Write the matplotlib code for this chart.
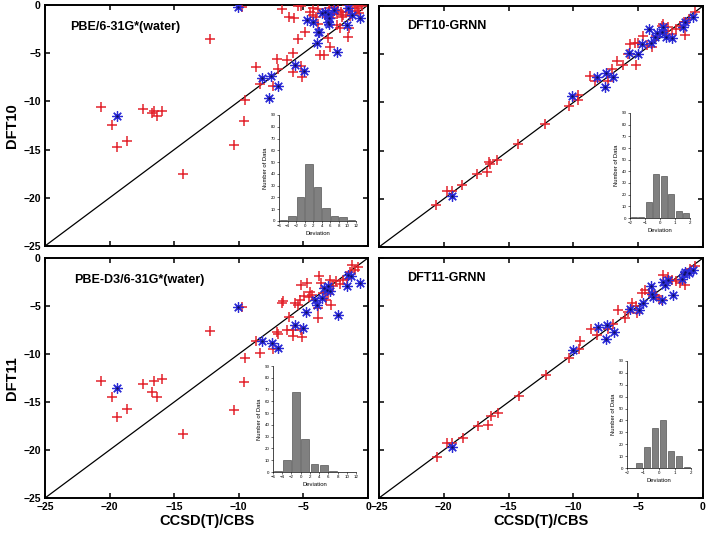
import matplotlib
matplotlib.use("Agg")
import matplotlib.pyplot as plt
import numpy as np

plt.rcParams['font.family'] = ['Liberation Sans', 'DejaVu Sans']

# ---------------- data ----------------
titles = ["PBE/6-31G*(water)", "DFT10-GRNN", "PBE-D3/6-31G*(water)", "DFT11-GRNN"]
ylabels = ["DFT10", "DFT11"]
xlabel = "CCSD(T)/CBS"
main_ticks = [-25, -20, -15, -10, -5, 0]

# Panel 1: PBE/6-31G*(water)
p1_red_x = [-20.67, -19.79, -19.40, -18.63, -17.44, -16.72, -16.54, -16.36, -15.92, -14.32,
            -12.20, -10.40, -9.62, -9.54, -9.75, -8.69, -8.36, -7.38, -7.02, -6.94,
            -6.68, -6.30, -6.09, -5.73, -5.78, -5.83, -5.40, -5.15, -5.07, -4.88,
            -5.40, -5.21, -4.49, -4.28, -4.23, -3.85, -3.07, -2.94, -3.71, -3.38,
            -3.46, -2.69, -2.40, -2.10, -1.90, -1.70, -2.30, -2.42, -2.17, -1.53,
            -1.45, -0.87, -0.49, -1.60, -1.20, -0.80, -3.00, -2.60, -1.40, -1.00,
            -0.70, -2.90, -3.90, -4.00, -3.30, -2.00, -1.20]
p1_red_y = [-10.55, -12.45, -14.77, -14.14, -10.79, -11.17, -11.00, -11.51, -10.96, -17.50,
            -3.49, -14.52, -12.07, -9.85, -0.24, -6.40, -8.20, -8.40, -5.64, -6.67,
            -0.40, -5.71, -1.28, -1.38, -4.95, -6.92, -3.56, -6.33, -7.50, -2.77,
            -0.10, -0.10, -0.69, -0.35, -1.04, -1.97, -3.46, -4.32, -5.19, -5.19,
            -0.86, -0.93, -0.90, -0.75, -1.00, -0.75, -0.55, -2.07, -2.42, -3.29,
            -2.42, -0.35, -0.10, -0.05, -0.05, -0.10, -0.30, -0.20, -1.10, -0.60,
            -0.80, -1.30, -0.40, -1.20, -1.00, -1.20, -0.90]
p1_blue_x = [-19.45, -10.06, -8.18, -7.51, -7.64, -6.99, -5.65, -4.97, -4.75, -4.23,
             -3.77, -3.97, -3.58, -3.30, -3.10, -3.00, -3.10, -3.00, -2.42, -1.65,
             -1.53, -1.27, -0.62, -3.86, -2.60]
p1_blue_y = [-11.51, -0.24, -7.54, -7.36, -9.61, -8.40, -6.26, -6.85, -1.56, -1.73,
             -2.77, -3.97, -0.86, -0.75, -0.90, -1.40, -1.80, -2.00, -4.91, -2.07,
             -0.35, -1.04, -1.38, -2.84, -0.50]

# Panel 2: DFT10-GRNN
p2_red_x = [-20.60, -19.73, -19.39, -18.57, -17.46, -16.69, -16.49, -16.40, -15.92, -14.30,
            -12.17, -10.36, -9.62, -9.62, -8.72, -8.31, -7.05, -7.36, -6.66, -6.15,
            -5.76, -5.63, -5.25, -5.00, -5.17, -4.65, -3.93, -3.07, -3.20, -2.70,
            -2.40, -2.10, -1.39, -1.80, -0.60, -3.60, -4.30, -2.90, -1.50, -1.10]
p2_red_y = [-20.64, -19.22, -19.22, -18.57, -17.43, -17.19, -16.15, -16.40, -15.98, -14.32,
            -12.24, -10.37, -9.23, -9.80, -7.23, -7.75, -6.53, -7.75, -5.67, -6.10,
            -4.98, -3.98, -3.87, -3.80, -6.15, -3.11, -4.25, -1.87, -2.10, -2.20,
            -2.90, -2.40, -3.00, -2.10, -0.60, -3.10, -4.00, -2.60, -1.70, -1.30]
p2_blue_x = [-19.39, -10.11, -8.20, -7.51, -7.59, -6.97, -5.70, -4.99, -4.73, -4.14,
             -4.00, -3.70, -3.57, -3.19, -3.07, -2.85, -2.42, -1.52, -1.39, -0.75]
p2_blue_y = [-19.68, -9.30, -7.40, -6.92, -8.37, -7.33, -4.90, -5.01, -3.98, -2.42,
             -3.85, -3.18, -2.84, -2.66, -2.14, -3.18, -3.28, -2.14, -1.62, -1.17]

# Panel 3: PBE-D3/6-31G*(water)
p3_red_x = [-20.67, -19.79, -19.40, -18.63, -17.44, -16.72, -16.54, -16.36, -15.92, -14.32,
            -12.20, -10.40, -9.62, -9.54, -9.75, -8.69, -8.36, -7.38, -7.02, -6.94,
            -6.68, -6.27, -5.83, -5.78, -6.09, -5.62, -5.40, -5.19, -5.15, -5.07,
            -4.97, -4.49, -3.85, -3.77, -3.67, -2.94, -2.89, -3.25, -5.26, -4.75,
            -3.85, -6.55, -1.27, -1.00, -0.75, -2.50, -2.20, -1.90, -2.70, -4.30,
            -4.60, -3.50, -3.10, -1.60, -1.40]
p3_red_y = [-12.78, -14.45, -16.53, -15.76, -13.13, -13.92, -12.81, -14.45, -12.57, -18.33,
            -7.60, -15.83, -12.95, -10.45, -5.07, -8.61, -9.86, -9.50, -7.67, -7.90,
            -4.65, -7.50, -8.13, -7.50, -6.11, -4.65, -4.88, -2.81, -7.50, -8.20,
            -3.98, -3.51, -6.28, -1.88, -2.60, -2.26, -4.90, -4.40, -4.34, -2.60,
            -5.21, -4.51, -0.69, -1.20, -0.90, -2.40, -2.70, -2.30, -2.90, -3.90,
            -4.10, -3.60, -3.80, -2.20, -1.50]
p3_blue_x = [-19.45, -10.06, -8.18, -7.45, -6.99, -5.65, -5.00, -4.82, -4.10, -3.97,
             -3.58, -3.20, -2.94, -3.07, -2.30, -1.53, -1.65, -0.62, -1.30, -3.40]
p3_blue_y = [-13.58, -5.07, -8.61, -8.89, -9.34, -6.94, -7.30, -5.66, -4.34, -4.86,
             -4.17, -3.30, -3.47, -2.95, -5.90, -1.74, -2.95, -2.60, -1.90, -3.10]

# Panel 4: DFT11-GRNN
p4_red_x = [-20.50, -19.73, -19.34, -18.49, -17.34, -16.61, -16.36, -15.79, -14.17, -12.11,
            -10.32, -9.57, -9.49, -8.66, -8.20, -6.92, -7.36, -6.58, -6.02, -5.76,
            -5.50, -5.07, -4.73, -4.49, -3.80, -3.60, -3.40, -3.07, -3.19, -2.40,
            -2.10, -1.80, -1.39, -0.60, -1.00, -2.70, -4.20, -5.20]
p4_red_y = [-20.70, -19.24, -19.24, -18.72, -17.50, -17.40, -16.46, -16.11, -14.37, -12.19,
            -10.45, -9.51, -8.61, -7.43, -8.02, -6.90, -7.40, -5.42, -6.28, -5.60,
            -4.65, -5.76, -3.68, -3.33, -3.90, -4.00, -4.30, -1.77, -4.38, -2.30,
            -2.40, -2.60, -2.82, -0.80, -1.10, -2.00, -3.60, -5.00]
p4_blue_x = [-19.39, -10.00, -8.12, -7.43, -7.51, -6.87, -5.63, -4.92, -4.66, -4.01,
             -3.95, -3.85, -3.19, -3.07, -2.95, -2.70, -2.29, -1.60, -1.50, -1.40,
             -0.75, -1.10]
p4_blue_y = [-19.72, -9.58, -7.22, -6.98, -8.47, -7.68, -5.31, -5.42, -4.65, -2.92,
             -3.80, -4.10, -4.40, -2.50, -2.80, -2.30, -3.85, -2.20, -1.70, -1.50,
             -1.25, -1.60]

# Inset histograms (deviation bins and counts)
h1_edges = [-6, -4, -2, 0, 2, 4, 6, 8, 10, 12]
h1_counts = [1, 4, 20, 48, 29, 11, 4, 3, 1]
h2_edges = [-2, -1.5, -1, -0.5, 0, 0.5, 1, 1.5, 2]
h2_counts = [1, 1, 14, 38, 36, 21, 6, 4]
h3_edges = [-6, -4, -2, 0, 2, 4, 6, 8, 10, 12]
h3_counts = [1, 10, 68, 28, 7, 6, 1, 0, 0]
h4_edges = [-2, -1.5, -1, -0.5, 0, 0.5, 1, 1.5, 2]
h4_counts = [0, 4, 18, 34, 40, 14, 10, 1]
h_wide_ticks = [-6, -4, -2, 0, 2, 4, 6, 8, 10, 12]
h_narrow_ticks = [-2, -1, 0, 1, 2]
h_yticks = [0, 10, 20, 30, 40, 50, 60, 70, 80, 90]

# ---------------- figure ----------------
W, H = 709, 536
fig = plt.figure(figsize=(W / 100, H / 100), dpi=100)


def fr(x0, y0, x1, y1):
    return [x0 / W, 1 - y1 / H, (x1 - x0) / W, (y1 - y0) / H]


main_rects = [fr(45, 5, 368, 246), fr(379, 6, 703, 247),
              fr(45, 258, 368, 498), fr(379, 258, 703, 498)]
inset_rects = [fr(279, 115, 356, 221), fr(630, 113, 690, 218),
               fr(273, 366, 356, 472), fr(627, 361, 691, 468)]

panels = [
    (p1_red_x, p1_red_y, p1_blue_x, p1_blue_y, h1_edges, h1_counts, h_wide_ticks),
    (p2_red_x, p2_red_y, p2_blue_x, p2_blue_y, h2_edges, h2_counts, h_narrow_ticks),
    (p3_red_x, p3_red_y, p3_blue_x, p3_blue_y, h3_edges, h3_counts, h_wide_ticks),
    (p4_red_x, p4_red_y, p4_blue_x, p4_blue_y, h4_edges, h4_counts, h_narrow_ticks),
]
title_pos = [(0.077, 0.909), (0.086, 0.915), (0.09, 0.908), (0.086, 0.915)]

red = '#e3232c'
blue = '#2b2bd6'

for i, (rx, ry, bx, by, edges, counts, hticks) in enumerate(panels):
    ax = fig.add_axes(main_rects[i])
    ax.plot([-25, 0], [-25, 0], color='black', lw=0.9, zorder=2)
    ax.plot(rx, ry, linestyle='none', marker='+', ms=6.5, mew=1.1, color=red, zorder=3)
    ax.plot(bx, by, linestyle='none', marker=(8, 2, 0), ms=7.5, mew=0.9, color=blue, zorder=4)
    ax.plot(bx, by, linestyle='none', marker='o', ms=1.8, mew=0, color='#101060', zorder=5)
    ax.set_xlim(-25, 0)
    ax.set_ylim(-25, 0)
    ax.set_xticks(main_ticks)
    ax.set_yticks(main_ticks)
    for s in ax.spines.values():
        s.set_linewidth(1.4)
    ax.tick_params(direction='in', top=True, right=True, length=3.5, width=1.1,
                   labelsize=7.5, pad=3)
    for lab in ax.get_xticklabels() + ax.get_yticklabels():
        lab.set_fontweight('bold')
    if i in (0, 1):
        ax.tick_params(labelbottom=False)
    else:
        ax.set_xlabel(xlabel, fontsize=10.5, fontweight='bold', labelpad=1)
    if i in (1, 3):
        ax.tick_params(labelleft=False)
    else:
        ax.set_ylabel(ylabels[i // 2], fontsize=10.5, fontweight='bold', labelpad=3)
    ax.text(title_pos[i][0], title_pos[i][1], titles[i], transform=ax.transAxes,
            fontsize=9, fontweight='bold', ha='left', va='center')

    # inset histogram
    ins = fig.add_axes(inset_rects[i])
    lefts = np.array(edges[:-1], dtype=float)
    widths = np.diff(np.array(edges, dtype=float))
    ins.bar(lefts + widths / 2, counts, width=widths * 0.86, color='#808080',
            edgecolor='#3a3a3a', linewidth=0.4)
    ins.set_xlim(edges[0], edges[-1])
    ins.set_ylim(0, 90)
    ins.set_xticks(hticks)
    ins.set_yticks(h_yticks)
    ins.spines['top'].set_visible(False)
    ins.spines['right'].set_visible(False)
    for s in ('left', 'bottom'):
        ins.spines[s].set_linewidth(0.5)
    ins.tick_params(direction='out', length=1.5, width=0.4, labelsize=3.2, pad=1)
    ins.set_xlabel('Deviation', fontsize=4.2, labelpad=1.5)
    ins.set_ylabel('Number of Data', fontsize=4.2, labelpad=2)
    ins.patch.set_alpha(0)

fig.savefig('out.png', dpi=100)
